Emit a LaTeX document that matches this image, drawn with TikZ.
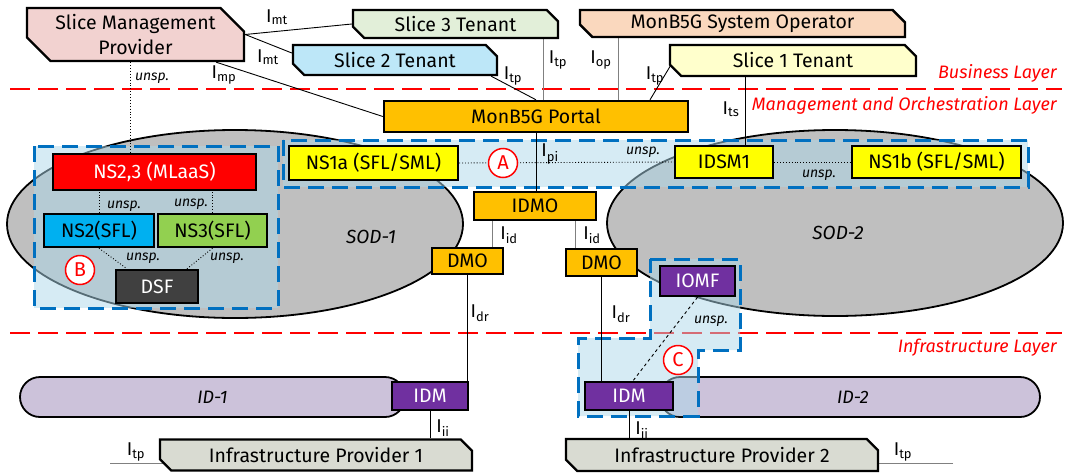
\documentclass[tikz,border=0pt]{standalone}
\usepackage{fontspec}
\setmainfont{Fira Sans}
\usetikzlibrary{shapes.misc, positioning, calc}

\definecolor{smpfill}{RGB}{242,210,208}
\definecolor{tenthree}{RGB}{226,239,217}
\definecolor{tentwo}{RGB}{189,231,248}
\definecolor{tenone}{RGB}{255,255,204}
\definecolor{opfill}{RGB}{250,216,190}
\definecolor{orng}{RGB}{255,192,0}
\definecolor{ylw}{RGB}{255,255,0}
\definecolor{nsblue}{RGB}{0,176,240}
\definecolor{nsgreen}{RGB}{146,208,80}
\definecolor{dsfgray}{RGB}{64,64,64}
\definecolor{purp}{RGB}{112,48,160}
\definecolor{idfill}{RGB}{204,194,218}
\definecolor{ipfill}{RGB}{217,219,210}
\definecolor{sodgray}{RGB}{191,191,191}
\definecolor{regblue}{RGB}{0,112,192}
\definecolor{regfill}{RGB}{173,216,234}

\newcommand{\itf}[1]{I\textsubscript{#1}}

\pgfdeclarelayer{sod}
\pgfdeclarelayer{region}
\pgfdeclarelayer{wire}
\pgfsetlayers{sod,region,wire,main}

\begin{document}
\begin{tikzpicture}[x=1pt,y=-1pt,
  box/.style={draw, line width=2.4pt, inner sep=0pt, font=\fontsize{19.5}{25}\selectfont},
  actor/.style={box, chamfered rectangle, chamfered rectangle corners={north east,south west}, chamfered rectangle xsep=20pt},
  layerline/.style={red, line width=2pt, dash pattern=on 20pt off 8pt},
  layertext/.style={red, anchor=east, inner sep=0pt, font=\fontsize{18}{20}\selectfont\itshape},
  region/.style={draw=regblue, line width=3pt, dash pattern=on 16pt off 8pt, fill=regfill, fill opacity=0.5},
  sod/.style={draw, line width=1.8pt, fill=sodgray},
  infdom/.style={draw, line width=1.8pt, fill=idfill, rounded rectangle, inner sep=0pt, minimum height=40pt, font=\fontsize{18}{20}\selectfont\itshape},
  wire/.style={line width=0.9pt},
  unspline/.style={line width=0.9pt, dotted},
  ifc/.style={inner sep=0pt, font=\fontsize{18.5}{20}\selectfont},
  unsp/.style={inner sep=0pt, font=\fontsize{14}{16}\selectfont\itshape},
  callout/.style={circle, draw=red, fill=white, line width=1.5pt, text=red, minimum size=29pt, inner sep=0pt, font=\fontsize{20}{22}\selectfont}
]
\useasboundingbox (0,0) rectangle (1070,474);

% layers
\begin{pgfonlayer}{sod}
\draw[layerline] (10,89) -- (1062,89);
\draw[layerline] (10,333) -- (1062,333);
\draw[sod] (235,224) ellipse [x radius=228, y radius=94];
\draw[sod] (835,223) ellipse [x radius=228, y radius=93];
\node[infdom, minimum width=385pt] (id1) at (212.5,397) {ID-1};
\node[infdom, minimum width=380pt] (id2) at (850,397) {\hspace{6pt}ID-2};
\end{pgfonlayer}
\node[layertext] (bl) at (1057,73) {Business Layer};
\node[layertext] (ml) at (1057,105) {Management and Orchestration Layer};
\node[layertext] (il) at (1057,348) {Infrastructure Layer};
\node[inner sep=0pt, font=\fontsize{19}{21}\selectfont\itshape] (sod1) at (371,237) {SOD-1};
\node[inner sep=0pt, font=\fontsize{19}{21}\selectfont\itshape] (sod2) at (838,233) {SOD-2};

% regions A, B, C
\begin{pgfonlayer}{region}
\draw[region] (283,140) rectangle (1028,187);
\draw[region] (34,146) rectangle (278,308);
\draw[region] (650,259) -- (740,259) -- (740,350) -- (698,350) -- (698,416)
  -- (578,416) -- (578,338) -- (650,338) -- cycle;
\end{pgfonlayer}

% business layer
\node[actor, fill=smpfill, minimum width=217pt, minimum height=53pt, align=center] (smp) at (135.5,34.5) {Slice Management\\Provider};
\node[actor, fill=tenthree, minimum width=205pt, minimum height=28pt] (ten3) at (455.5,24) {Slice 3 Tenant};
\node[actor, fill=tentwo, minimum width=204pt, minimum height=30pt] (ten2) at (395,60) {Slice 2 Tenant};
\node[actor, fill=opfill, minimum width=325pt, minimum height=27pt] (sysop) at (742.5,23.5) {MonB5G System Operator};
\node[actor, fill=tenone, minimum width=246pt, minimum height=31pt] (ten1) at (793,60.5) {Slice 1 Tenant};

% management and orchestration layer
\node[box, fill=orng, minimum width=304pt, minimum height=31pt] (portal) at (536,116.5) {MonB5G Portal};
\node[box, fill=ylw, minimum width=169pt, minimum height=34pt] (ns1a) at (373.5,163) {NS1a (SFL/SML)};
\node[box, fill=ylw, minimum width=98pt, minimum height=32pt] (idsm) at (724,162) {IDSM1};
\node[box, fill=ylw, minimum width=169pt, minimum height=32pt] (ns1b) at (936.5,162) {NS1b (SFL/SML)};
\node[box, fill=orng, minimum width=122pt, minimum height=28pt] (idmo) at (535,206) {IDMO};
\node[box, fill=orng, minimum width=71pt, minimum height=26pt] (dmo1) at (467.5,261) {DMO};
\node[box, fill=orng, minimum width=71pt, minimum height=27pt] (dmo2) at (601.5,262.5) {DMO};
\node[box, fill=red, text=white, minimum width=203pt, minimum height=36pt] (ns23) at (154.5,172) {NS2,3 (MLaaS)};
\node[box, fill=nsblue, minimum width=110pt, minimum height=33pt] (ns2) at (99,230.5) {NS2(SFL)};
\node[box, fill=nsgreen, minimum width=109pt, minimum height=33pt] (ns3) at (212.5,230.5) {NS3(SFL)};
\node[box, fill=dsfgray, text=white, minimum width=82pt, minimum height=33pt] (dsf) at (157,286.5) {DSF};
\node[box, fill=purp, text=white, minimum width=75pt, minimum height=30pt] (iomf) at (697.5,281) {IOMF};

% infrastructure layer
\node[box, fill=purp, text=white, minimum width=76pt, minimum height=28pt] (idm1) at (430,396) {IDM};
\node[box, fill=purp, text=white, minimum width=88pt, minimum height=28pt] (idm2) at (629,396) {IDM};
\node[actor, fill=ipfill, minimum width=312pt, minimum height=31pt] (ip1) at (316,455) {Infrastructure Provider 1};
\node[actor, fill=ipfill, minimum width=312pt, minimum height=32pt] (ip2) at (722,455) {Infrastructure Provider 2};
\coordinate (tp1) at (110,463);
\coordinate (tp2) at (953,463);

\node[callout] (ca) at (503,163) {A};
\node[callout] (cb) at (80,270) {B};
\node[callout] (cc) at (678,360) {C};

% connectors
\begin{pgfonlayer}{wire}
\draw[wire] (smp.east) -- (ten3.west);
\draw[wire] (smp.east) -- ([yshift=7pt]ten2.west);
\draw[wire] ([xshift=-29pt]smp.south east) -- (portal.west);
\draw[wire] ([xshift=-7pt]ten2.south east) -- (portal.north);
\draw[wire, gray] ([xshift=87.5pt]ten3.south) -- ([xshift=87.5pt]ten3.south |- portal.north);
\draw[wire, gray] ([xshift=-124.5pt]sysop.south) -- ([xshift=-124.5pt]sysop.south |- portal.north);
\draw[wire] ([xshift=-4pt,yshift=6pt]ten1.south west) -- ([xshift=114pt]portal.north);
\draw[wire] ([xshift=-48pt]ten1.south) -- ([xshift=-48pt]ten1.south |- idsm.north);
\draw[wire] (portal.south) -- (portal.south |- idmo.north);
\draw[wire, gray] ([xshift=24.5pt]dmo1.north) -- ([xshift=24.5pt]dmo1.north |- idmo.south);
\draw[wire, gray] ([xshift=-26.5pt]dmo2.north) -- ([xshift=-26.5pt]dmo2.north |- idmo.south);
\draw[wire] (dmo1.south) -- (dmo1.south |- idm1.north);
\draw[wire] (dmo2.south) -- (dmo2.south |- idm2.north);
\draw[wire] (idm1.south) -- (idm1.south |- ip1.north);
\draw[wire] (idm2.south) -- (idm2.south |- ip2.north);
\draw[wire, gray] (tp1) -- (tp1 -| ip1.center);
\draw[wire, gray] (tp2) -- (tp2 -| ip2.center);
\draw[unspline] ([xshift=-5.5pt]smp.south) -- ([xshift=-5.5pt]smp.south |- ns23.north);
\draw[unspline] (ns2.north) -- (ns2.north |- ns23.south);
\draw[unspline] (ns3.north) -- (ns3.north |- ns23.south);
\draw[unspline] (ns2.south) -- ([xshift=-30pt]dsf.north);
\draw[unspline] (ns3.south) -- ([xshift=30pt]dsf.north);
\draw[unspline] (ns1a.east) -- (idsm.west);
\draw[unspline] (idsm.east) -- (ns1b.west);
\draw[wire, dashed] (iomf.south) -- ([xshift=4pt]idm2.north);
\end{pgfonlayer}

% interface labels
\node[ifc] (lmt1) at (277,17) {\itf{mt}};
\node[ifc] (lmt2) at (268,57) {\itf{mt}};
\node[ifc] (lmp) at (224,75) {\itf{mp}};
\node[ifc] (ltp2) at (513,76) {\itf{tp}};
\node[ifc] (ltp3) at (558,60) {\itf{tp}};
\node[ifc] (lop) at (601,60) {\itf{op}};
\node[ifc] (ltp1) at (655,76) {\itf{tp}};
\node[ifc] (lts) at (731,109) {\itf{ts}};
\node[ifc] (lpi) at (550,154) {\itf{pi}};
\node[ifc] (lid1) at (509,235) {\itf{id}};
\node[ifc] (lid2) at (592,235) {\itf{id}};
\node[ifc] (ldr1) at (480,313) {\itf{dr}};
\node[ifc] (ldr2) at (621,314) {\itf{dr}};
\node[ifc] (lii1) at (443,428) {\itf{ii}};
\node[ifc] (lii2) at (642,430) {\itf{ii}};
\node[ifc] (ltpa) at (136,452) {\itf{tp}};
\node[ifc] (ltpb) at (903,452) {\itf{tp}};

\node[unsp] (u1) at (152,78) {unsp.};
\node[unsp] (u2) at (124,206) {unsp.};
\node[unsp] (u3) at (191,204) {unsp.};
\node[unsp] (u4) at (143,258) {unsp.};
\node[unsp] (u5) at (227,258) {unsp.};
\node[unsp] (u6) at (643,152) {unsp.};
\node[unsp] (u7) at (819,175) {unsp.};
\node[unsp] (u8) at (711,321) {unsp.};
\end{tikzpicture}
\end{document}
